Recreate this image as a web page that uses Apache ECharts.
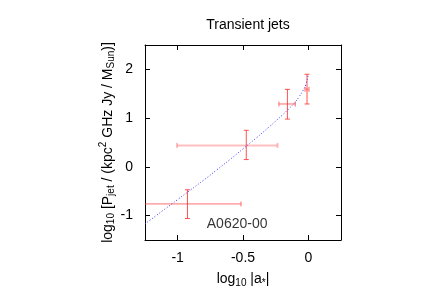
<!DOCTYPE html>
<html>
<head>
<meta charset="utf-8">
<script src="https://cdn.jsdelivr.net/npm/echarts@6/dist/echarts.min.js"></script>
<style>html,body{margin:0;padding:0;background:#fff}#c{width:436px;height:305px}</style>
</head>
<body>
<div id="c"></div>
<script>
// Jet data: log10 |a*| and log10 P_jet with error extents
const jetLogA    = [-0.925, -0.475, -0.16, -0.01];
const jetLogP    = [-0.76, 0.44, 1.29, 1.59];
const jetXLow    = [-1.36, -1.005, -0.225, -0.025];
const jetXHigh   = [-0.515, -0.236, -0.10, 0.005];
const jetYLow    = [-1.06, 0.15, 0.98, 1.29];
const jetYHigh   = [-0.47, 0.75, 1.59, 1.90];
// Model curve
const curveLogA  = [-1.25, -1.1, -1.0, -0.9, -0.8, -0.7, -0.6, -0.5, -0.4, -0.3, -0.2, -0.15, -0.1, -0.07, -0.04, -0.02, 0];
const curveLogP  = [-1.17, -0.87, -0.67, -0.47, -0.27, -0.06, 0.15, 0.37, 0.59, 0.82, 1.06, 1.19, 1.33, 1.44, 1.57, 1.68, 1.9];
const xTicks     = [-1, -0.5, 0];
const yTicks     = [-1, 0, 1, 2];
const sourceName = 'A0620-00';
const sourcePos  = [-0.545, -1.17];

// styles for horizontal bars (thin red vs. wide pale)
const hBarStyle = [
  {stroke: 'rgba(255,60,60,0.75)', lineWidth: 1},
  {stroke: 'rgba(255,110,110,0.45)', lineWidth: 2},
  {stroke: 'rgba(255,60,60,0.75)', lineWidth: 1},
  {stroke: 'rgba(255,110,110,0.5)', lineWidth: 2}
];
const vBarStyle = {stroke: 'rgba(255,40,40,0.8)', lineWidth: 1};

const FONT = '"Liberation Sans", Arial, Helvetica, sans-serif';
const chart = echarts.init(document.getElementById('c'), null, {renderer: 'canvas'});

const errData = jetLogA.map((x, i) => [x, jetLogP[i], jetXLow[i], jetXHigh[i], jetYLow[i], jetYHigh[i], i]);
const curveData = curveLogA.map((x, i) => [x, curveLogP[i]]);

function renderErr(params, api) {
  const cs = params.coordSys;
  const x0 = cs.x, x1 = cs.x + cs.width;
  const c = api.coord([api.value(0), api.value(1)]);
  const xl = api.coord([api.value(2), api.value(1)])[0];
  const xh = api.coord([api.value(3), api.value(1)])[0];
  const yl = api.coord([api.value(0), api.value(4)])[1];
  const yh = api.coord([api.value(0), api.value(5)])[1];
  const idx = api.value(6);
  const hs = hBarStyle[idx];
  const cap = 2.5;
  const children = [];
  const cxl = Math.max(xl, x0), cxh = Math.min(xh, x1);
  children.push({type: 'line', shape: {x1: cxl, y1: c[1], x2: cxh, y2: c[1]}, style: hs});
  if (xl >= x0) children.push({type: 'line', shape: {x1: xl, y1: c[1] - cap, x2: xl, y2: c[1] + cap}, style: hs});
  if (xh <= x1) children.push({type: 'line', shape: {x1: xh, y1: c[1] - cap, x2: xh, y2: c[1] + cap}, style: hs});
  children.push({type: 'line', shape: {x1: c[0], y1: yl, x2: c[0], y2: yh}, style: vBarStyle});
  children.push({type: 'line', shape: {x1: c[0] - cap, y1: yl, x2: c[0] + cap, y2: yl}, style: vBarStyle});
  children.push({type: 'line', shape: {x1: c[0] - cap, y1: yh, x2: c[0] + cap, y2: yh}, style: vBarStyle});
  return {type: 'group', children};
}

const axisLineStyle = {show: true, onZero: false, lineStyle: {color: '#000', width: 1}};
const tickStyle = (vals) => ({show: true, inside: true, length: 5, customValues: vals, lineStyle: {color: '#000', width: 1}});
const sub = {fontSize: 10, lineHeight: 10, verticalAlign: 'bottom', fontFamily: FONT, color: '#000'};
const sup = {fontSize: 10, lineHeight: 10, verticalAlign: 'top', fontFamily: FONT, color: '#000'};
const nrm = {fontSize: 14, lineHeight: 18, fontFamily: FONT, color: '#000'};

chart.setOption({
  animation: false,
  backgroundColor: '#fff',
  title: {
    text: 'Transient jets', left: 243, top: 13, textAlign: 'center',
    textStyle: {fontFamily: FONT, fontSize: 14, fontWeight: 'normal', color: '#000'}
  },
  grid: {left: 145, top: 45, width: 196, height: 195, containLabel: false},
  xAxis: [{
    type: 'value', min: -1.25, max: 0.25, position: 'bottom',
    axisLine: axisLineStyle, axisTick: tickStyle(xTicks), splitLine: {show: false},
    axisLabel: {customValues: xTicks, margin: 11, fontFamily: FONT, fontSize: 14, color: '#000', formatter: v => String(v)},
    name: '{n|log}{s|10}{n| |a}{s|*}{n||}', nameLocation: 'middle', nameGap: 30,
    nameTextStyle: {rich: {n: nrm, s: sub}}
  }, {
    type: 'value', min: -1.25, max: 0.25, position: 'top',
    axisLine: axisLineStyle, axisTick: tickStyle(xTicks), axisLabel: {show: false}, splitLine: {show: false}
  }],
  yAxis: [{
    type: 'value', min: -1.5, max: 2.5, position: 'left',
    axisLine: axisLineStyle, axisTick: tickStyle(yTicks), splitLine: {show: false},
    axisLabel: {customValues: yTicks, margin: 12, fontFamily: FONT, fontSize: 14, color: '#000', formatter: v => String(v)},
    name: '{n|log}{s|10}{n| [P}{s|jet}{n| / (kpc}{p|2}{n| GHz Jy / M}{s|Sun}{n|)]}',
    nameLocation: 'middle', nameRotate: 90, nameGap: 27,
    nameTextStyle: {rich: {n: nrm, s: sub, p: sup}}
  }, {
    type: 'value', min: -1.5, max: 2.5, position: 'right',
    axisLine: axisLineStyle, axisTick: tickStyle(yTicks), axisLabel: {show: false}, splitLine: {show: false}
  }],
  series: [{
    type: 'line', data: curveData, xAxisIndex: 0, yAxisIndex: 0,
    showSymbol: false, symbol: 'none', smooth: true,
    lineStyle: {color: '#3c3cff', width: 1, type: [1, 2]}, z: 3
  }, {
    type: 'custom', data: errData, xAxisIndex: 0, yAxisIndex: 0,
    renderItem: renderErr, z: 2, encode: {x: 0, y: 1}
  }, {
    type: 'scatter', data: [sourcePos], symbolSize: 0, xAxisIndex: 0, yAxisIndex: 0,
    label: {show: true, position: 'inside', formatter: sourceName, fontFamily: FONT, fontSize: 14, color: '#000'},
    silent: true
  }]
});
</script>
</body>
</html>
